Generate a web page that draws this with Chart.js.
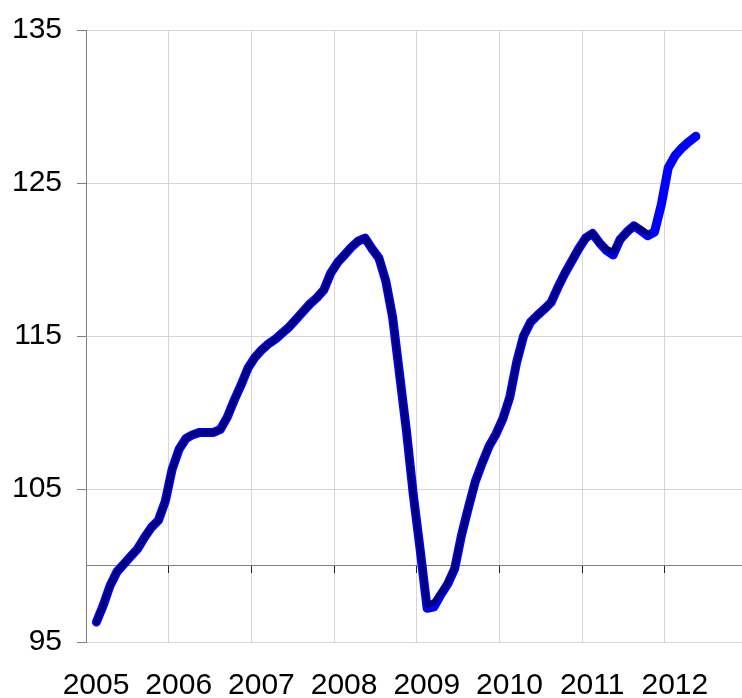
<!DOCTYPE html>
<html>
<head>
<meta charset="utf-8">
<script src="https://cdn.jsdelivr.net/npm/chart.js@4.4.1/dist/chart.umd.min.js"></script>
<style>
    html, body { margin: 0; padding: 0; background: #fff; overflow: hidden; }
    #wrap { width: 742px; height: 698px; overflow: hidden; }
    #box  { width: 745px; height: 730px; margin-left: -3px; position: relative; }
</style>
</head>
<body>
<div id="wrap"><div id="box"><canvas id="chart"></canvas></div></div>
<script>
// Monthly index, first value = Feb 2005
const startYear  = 2005;
const startMonth = 2;

const yearLabels = ['2005', '2006', '2007', '2008', '2009', '2010', '2011', '2012'];
const yLabels    = [95, 105, 115, 125, 135];

// blue series (Feb 2005 - May 2012)
const blueIndex = [
    96.3, 97.4, 98.7, 99.6, 100.1, 100.6, 101.1, 101.85, 102.5, 102.95, 104.2,
    106.3, 107.6, 108.3, 108.55, 108.7, 108.7, 108.7, 108.9, 109.7, 110.8, 111.8, 112.9,
    113.6, 114.1, 114.5, 114.8, 115.2, 115.6, 116.1, 116.6, 117.1, 117.5, 118.0, 119.1,
    119.8, 120.3, 120.8, 121.2, 121.4, 120.7, 120.1, 118.6, 116.2, 112.5, 108.8, 104.6,
    101.0, 97.2, 97.3, 98.1, 98.8, 99.8, 102.0, 103.8, 105.5, 106.7, 107.8, 108.6,
    109.6, 111.0, 113.3, 115.0, 115.9, 116.35, 116.75, 117.2, 118.2, 119.1, 119.9, 120.7,
    121.4, 121.7, 121.1, 120.6, 120.3, 121.3, 121.8, 122.2, 121.9, 121.55, 121.8, 123.6,
    126.0, 126.8, 127.3, 127.7, 128.05
];

// navy series (Feb 2005 - Nov 2011)
const navyIndex = [
    96.3, 97.4, 98.7, 99.6, 100.1, 100.6, 101.1, 101.85, 102.5, 102.95, 104.2,
    106.3, 107.6, 108.3, 108.55, 108.7, 108.7, 108.7, 108.9, 109.7, 110.8, 111.8, 112.9,
    113.6, 114.1, 114.5, 114.8, 115.2, 115.6, 116.1, 116.6, 117.1, 117.5, 118.0, 119.1,
    119.8, 120.3, 120.8, 121.2, 121.4, 120.7, 120.1, 118.6, 116.2, 112.5, 108.8, 104.6,
    101.0, 97.4, 97.6, 98.2, 98.9, 99.9, 102.0, 103.8, 105.5, 106.7, 107.8, 108.6,
    109.6, 111.0, 113.3, 115.0, 115.9, 116.35, 116.75, 117.2, 118.2, 119.1, 119.9, 120.7,
    121.4, 121.7, 121.1, 120.7, 120.5, 121.3, 121.8, 122.2, 122.0, 121.7
];

const gridGrey = '#d6d6d6';
const axisGrey = '#7f7f7f';
const none     = 'rgba(0,0,0,0)';
const labelFont = { family: 'Liberation Sans', size: 30, lineHeight: 1 };

// months counted from Jan 2005, point in the middle of its month
function toPoints(values) {
    const first = (startMonth - 1) + 0.5;
    return values.map((v, i) => ({ x: first + i, y: v }));
}

function yearTicks(scale) {
    scale.ticks = yearLabels.map(y => ({ value: (Number(y) - startYear) * 12 }));
}

const xMax = 95.2;

new Chart(document.getElementById('chart').getContext('2d'), {
    type: 'line',
    data: {
        datasets: [
            {
                label: 'navy',
                data: toPoints(navyIndex),
                borderColor: '#000080',
                borderWidth: 6,
                pointRadius: 0,
                tension: 0,
                borderCapStyle: 'round',
                borderJoinStyle: 'round'
            },
            {
                label: 'blue',
                data: toPoints(blueIndex),
                borderColor: '#0000ff',
                borderWidth: 9,
                pointRadius: 0,
                tension: 0,
                borderCapStyle: 'round',
                borderJoinStyle: 'round'
            }
        ]
    },
    options: {
        responsive: true,
        maintainAspectRatio: false,
        animation: false,
        layout: { padding: { top: 28, left: 0, right: 0, bottom: 0 } },
        plugins: {
            legend: { display: false },
            tooltip: { enabled: false }
        },
        scales: {
            x: {
                type: 'linear',
                min: 0,
                max: xMax,
                afterBuildTicks: yearTicks,
                ticks: {
                    callback: (v, i) => yearLabels[i],
                    font: labelFont,
                    color: '#000',
                    padding: 29,
                    labelOffset: 10,
                    maxRotation: 0,
                    autoSkip: false
                },
                grid: {
                    color: c => (c.tick && c.tick.value === 0) ? none : gridGrey,
                    drawTicks: false
                },
                border: { display: false }
            },
            x2: {
                type: 'linear',
                axis: 'x',
                position: { y: 100 },
                min: 0,
                max: xMax,
                afterBuildTicks: yearTicks,
                ticks: { display: false },
                grid: { drawOnChartArea: false, tickLength: 7, tickColor: '#222' },
                border: { color: axisGrey }
            },
            y: {
                min: 95,
                max: 135,
                ticks: {
                    stepSize: 5,
                    autoSkip: false,
                    callback: v => yLabels.includes(v) ? String(v) : '',
                    font: labelFont,
                    color: '#000',
                    padding: 15
                },
                grid: {
                    color: c => (c.tick && yLabels.includes(c.tick.value)) ? gridGrey : none,
                    tickColor: c => (c.tick && yLabels.includes(c.tick.value)) ? axisGrey : none,
                    tickLength: 9
                },
                border: { color: axisGrey }
            }
        }
    }
});
</script>
</body>
</html>
